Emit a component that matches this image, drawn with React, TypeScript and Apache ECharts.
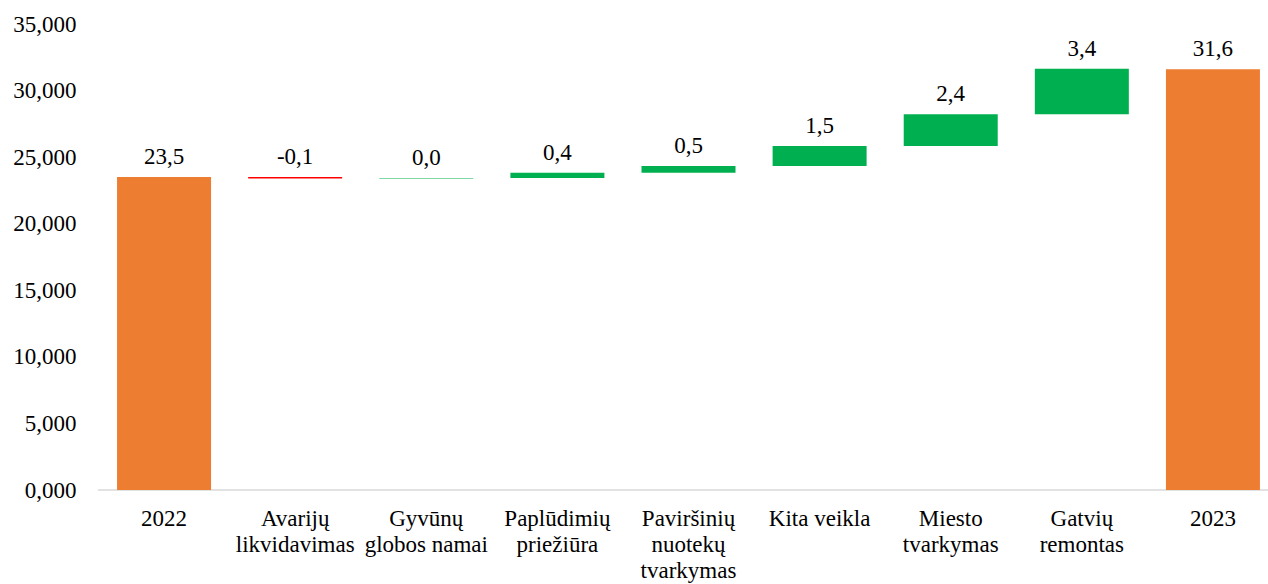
import React, { useEffect, useRef } from "react";
import * as echarts from "echarts";

const categories = [
  "2022",
  "Avarijų\nlikvidavimas",
  "Gyvūnų\nglobos namai",
  "Paplūdimių\npriežiūra",
  "Paviršinių\nnuotekų\ntvarkymas",
  "Kita veikla",
  "Miesto\ntvarkymas",
  "Gatvių\nremontas",
  "2023",
];
// signed changes; first and last are totals
const values = [23.5, -0.1, 0.03, 0.4, 0.5, 1.5, 2.4, 3.4, 31.6];
const isTotal = [true, false, false, false, false, false, false, false, true];
const yTicks = { min: 0, max: 35, interval: 5 };

const ORANGE = "#ED7D31";
const GREEN = "#00B050";
const RED = "#FF0000";
const FONT = "Times New Roman, Liberation Serif, DejaVu Serif, serif";

export default function App() {
  const ref = useRef<HTMLDivElement>(null);
  useEffect(() => {
    if (!ref.current) return;
    const chart = echarts.init(ref.current, undefined, { renderer: "svg" });
    const base: number[] = [];
    const vis: any[] = [];
    let cum = 0;
    values.forEach((v, i) => {
      if (isTotal[i]) {
        base.push(0);
        vis.push({ value: v, itemStyle: { color: ORANGE }, raw: v });
        cum = v;
      } else {
        const start = cum;
        const end = cum + v;
        base.push(Math.min(start, end));
        vis.push({
          value: Math.abs(v),
          itemStyle: { color: v < 0 ? RED : GREEN },
          raw: v,
        });
        cum = end;
      }
    });
    chart.setOption({
      animation: false,
      textStyle: { fontFamily: FONT },
      grid: { left: 98.5, top: 24, width: 1180, height: 466 },
      xAxis: {
        type: "category",
        data: categories,
        axisLine: { lineStyle: { color: "#D9D9D9", width: 1.5 } },
        axisTick: { show: false },
        axisLabel: {
          interval: 0,
          color: "#000",
          fontFamily: FONT,
          fontSize: 23,
          lineHeight: 26,
          margin: 15,
        },
      },
      yAxis: {
        type: "value",
        min: yTicks.min,
        max: yTicks.max,
        interval: yTicks.interval,
        splitLine: { show: false },
        axisLine: { show: false },
        axisTick: { show: false },
        axisLabel: {
          color: "#000",
          fontFamily: FONT,
          fontSize: 23,
          margin: 22,
          formatter: (v: number) => v.toFixed(3).replace(".", ","),
        },
      },
      series: [
        {
          type: "bar",
          stack: "w",
          data: base,
          barWidth: 94,
          itemStyle: { color: "transparent" },
          silent: true,
        },
        {
          type: "bar",
          stack: "w",
          data: vis,
          barWidth: 94,
          label: {
            show: true,
            position: "top",
            distance: 9,
            color: "#000",
            fontFamily: FONT,
            fontSize: 23,
            formatter: (p: any) => (p.data.raw as number).toFixed(1).replace(".", ","),
          },
        },
      ],
    });
    return () => chart.dispose();
  }, []);
  return (
    <div
      style={{
        position: "absolute",
        left: 0,
        top: 0,
        width: 1268,
        height: 584,
        overflow: "hidden",
      }}
    >
      <div ref={ref} style={{ width: 1290, height: 584 }} />
    </div>
  );
}
